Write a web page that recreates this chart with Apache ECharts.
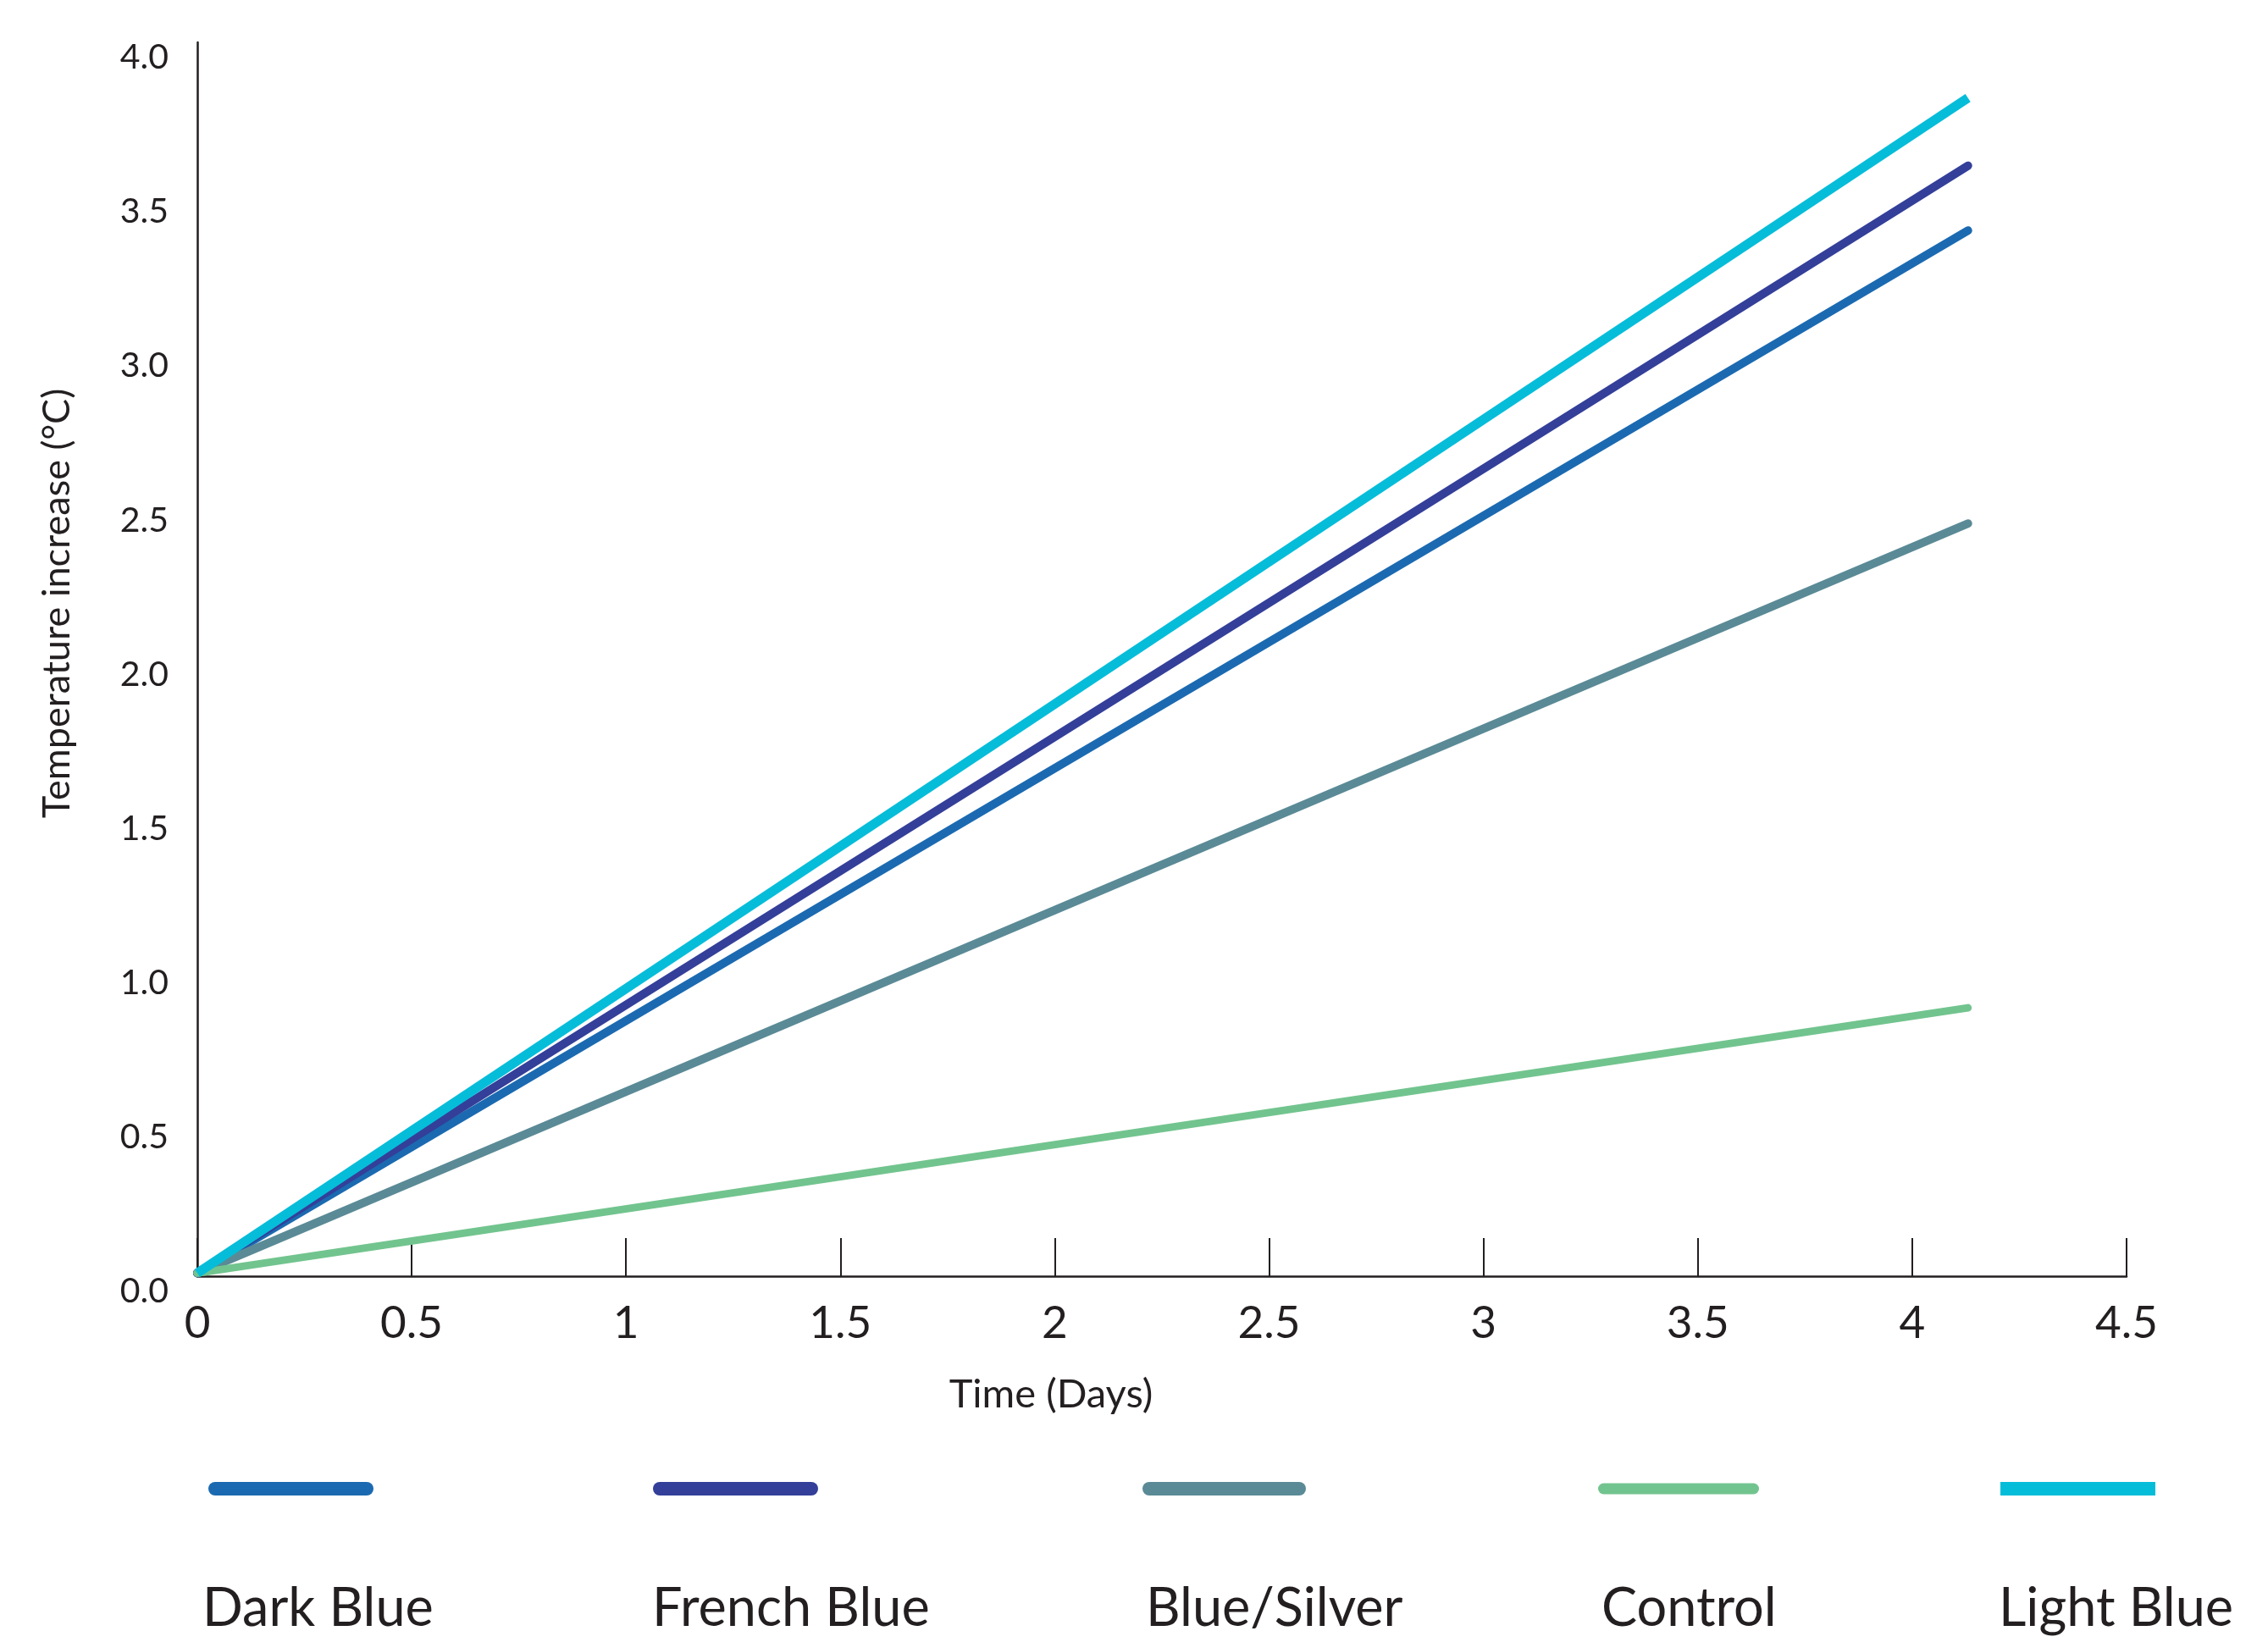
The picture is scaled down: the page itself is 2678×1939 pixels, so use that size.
<!DOCTYPE html>
<html>
<head>
<meta charset="utf-8">
<script src="https://cdn.jsdelivr.net/npm/echarts@6/dist/echarts.min.js"></script>
<style>
html,body{margin:0;padding:0;background:#fff;}
#chart{width:2678px;height:1939px;}
</style>
</head>
<body>
<div id="chart"></div>
<script>
// ---- data ----
const seriesNames = ['Dark Blue', 'French Blue', 'Blue/Silver', 'Control', 'Light Blue'];
const days = [0, 4.13];
const darkBlue = [0.01, 3.39];
const frenchBlue = [0.01, 3.60];
const blueSilver = [0.01, 2.44];
const control = [0.01, 0.87];
const lightBlue = [0.01, 3.82];
const xTicks = [0, 0.5, 1, 1.5, 2, 2.5, 3, 3.5, 4, 4.5];
const yTicks = [0, 0.5, 1, 1.5, 2, 2.5, 3, 3.5, 4];
const xTitle = 'Time (Days)';
const yTitle = 'Temperature increase (°C)';

// ---- styling ----
const FONT = 'Lato';
const INK = '#231f20';
const colors = ['#1b6ab1', '#333f99', '#5a8a96', '#72c48e', '#06bdd9'];
const widths = [10, 10, 10, 9, 11];
const caps = ['round', 'round', 'round', 'round', 'butt'];
const values = [darkBlue, frenchBlue, blueSilver, control, lightBlue];

const iconLeft = [246, 771, 1349, 1887, 2362];
const iconWidth = [195, 195, 193, 190, 183];
const iconHeight = [16, 16, 16, 13, 16];
const textLeft = [239, 770, 1353, 1891, 2360];

const series = seriesNames.map((name, i) => ({
  name: name,
  type: 'line',
  data: days.map((d, k) => [d, values[i][k]]),
  showSymbol: false,
  symbol: 'none',
  color: colors[i],
  lineStyle: { color: colors[i], width: widths[i], cap: caps[i], join: 'round' },
  z: 2 + i,
  animation: false
}));

function stadium(w, h) {
  const r = h / 2;
  return 'path://M' + r + ',0 L' + (w - r) + ',0 A' + r + ',' + r + ' 0 0 1 ' + (w - r) + ',' + h +
    ' L' + r + ',' + h + ' A' + r + ',' + r + ' 0 0 1 ' + r + ',0 Z';
}

const legends = [];
seriesNames.forEach((name, i) => {
  legends.push({
    data: [name],
    left: iconLeft[i],
    top: 1758 - iconHeight[i] / 2,
    padding: 0,
    itemWidth: iconWidth[i],
    itemHeight: iconHeight[i],
    icon: caps[i] === 'round' ? stadium(iconWidth[i], iconHeight[i]) : 'rect',
    itemStyle: { color: colors[i] },
    formatter: () => '',
    selectedMode: false,
    textStyle: { fontSize: 1 }
  });
  legends.push({
    data: [name],
    left: textLeft[i] - 5,
    top: 1868,
    padding: 0,
    itemWidth: 0,
    itemHeight: 0,
    icon: 'none',
    selectedMode: false,
    textStyle: { fontFamily: FONT, fontSize: 63, color: INK }
  });
});

const chart = echarts.init(document.getElementById('chart'));
chart.setOption({
  backgroundColor: '#ffffff',
  animation: false,
  grid: { left: 233, right: 167, top: 50, bottom: 432, containLabel: false },
  legend: legends,
  xAxis: {
    type: 'value',
    min: xTicks[0],
    max: xTicks[xTicks.length - 1],
    interval: 0.5,
    name: xTitle,
    nameLocation: 'middle',
    nameGap: 116,
    nameTextStyle: { fontFamily: FONT, fontSize: 47, color: INK, padding: [0, 262, 0, 0] },
    axisLine: { show: true, onZero: false, lineStyle: { color: INK, width: 2.5 } },
    axisTick: { show: true, inside: true, length: 45, lineStyle: { color: INK, width: 2 } },
    axisLabel: {
      fontFamily: FONT, fontSize: 53, color: INK, margin: 29,
      formatter: v => String(v)
    },
    splitLine: { show: false }
  },
  yAxis: {
    type: 'value',
    min: yTicks[0],
    max: yTicks[yTicks.length - 1],
    interval: 0.5,
    name: yTitle,
    nameLocation: 'middle',
    nameRotate: 90,
    nameGap: 143,
    nameTextStyle: { fontFamily: FONT, fontSize: 45, color: INK, padding: [0, 0, 0, 132] },
    axisLine: { show: true, onZero: false, lineStyle: { color: INK, width: 2.5 } },
    axisTick: { show: false },
    axisLabel: {
      fontFamily: FONT, fontSize: 41, color: INK, margin: 34,
      verticalAlign: 'top',
      lineHeight: 36,
      formatter: v => v.toFixed(1)
    },
    splitLine: { show: false }
  },
  series: series
});
</script>
</body>
</html>
